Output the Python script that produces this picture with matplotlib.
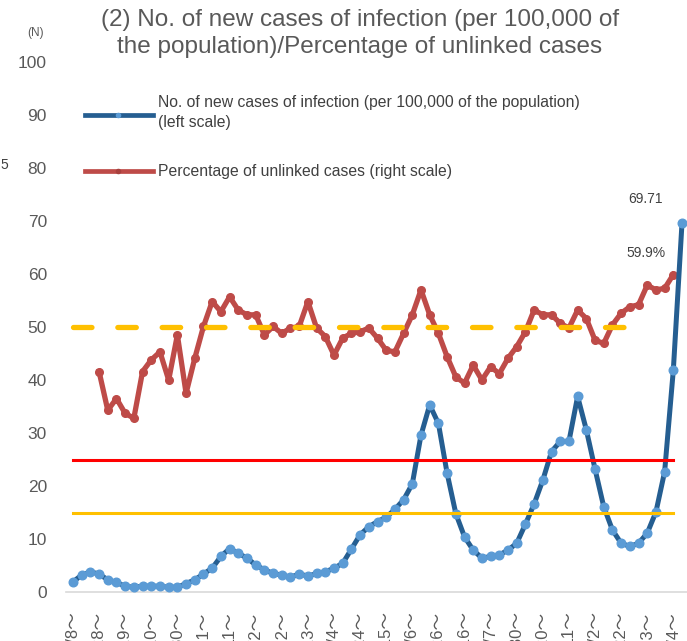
import matplotlib
matplotlib.use('Agg')
import matplotlib.pyplot as plt
from matplotlib.lines import Line2D
from matplotlib import font_manager
import numpy as np

plt.rcParams['font.family'] = ['Liberation Sans', 'DejaVu Sans']

# 人口10万人あたりの新規陽性者数 (左軸)
new_cases = [1.9, 3.2, 3.8, 3.4, 2.3, 1.8, 1.1, 0.9, 1.1, 1.1,
             1.1, 0.9, 0.9, 1.6, 2.3, 3.4, 4.5, 6.7, 8.2, 7.3,
             6.4, 5.1, 4.2, 3.5, 3.2, 2.8, 3.4, 3.0, 3.5, 3.8,
             4.5, 5.4, 8.1, 10.8, 12.3, 13.3, 14.1, 15.6, 17.4, 20.4,
             29.6, 35.3, 31.8, 22.4, 14.8, 10.4, 7.9, 6.4, 6.7, 7.0,
             7.9, 9.2, 12.8, 16.6, 21.1, 26.5, 28.4, 28.4, 36.9, 30.6,
             23.2, 16.1, 11.7, 9.2, 8.6, 9.2, 11.1, 15.1, 22.7, 41.9, 69.71]

# 感染経路不明割合 (右軸)
unlinked = [np.nan, np.nan, np.nan, 41.6, 34.3, 36.5, 33.7, 32.8, 41.6, 43.8,
            45.3, 40.0, 48.5, 37.5, 44.1, 50.1, 54.8, 52.9, 55.7, 53.2,
            52.3, 52.3, 48.5, 50.1, 48.8, 49.8, 50.1, 54.8, 49.8, 48.2,
            44.7, 47.9, 48.8, 49.1, 49.8, 47.9, 45.6, 45.3, 48.8, 52.3,
            57.0, 52.3, 48.8, 44.4, 40.6, 39.4, 42.8, 40.0, 42.5, 41.2,
            44.1, 46.3, 49.1, 53.2, 52.3, 52.3, 50.7, 49.8, 53.2, 51.6,
            47.5, 46.9, 50.4, 52.6, 53.8, 54.2, 57.9, 57.0, 57.3, 59.9]

x_labels = ["7/8～", "7/28～", "8/19～", "9/10～", "9/30～", "10/21～", "11/11～", "12/2～",
            "12/22～", "1/13～", "2/4～", "2/24～", "3/15～", "4/6～", "4/26～", "5/16～",
            "6/7～", "6/30～", "7/20～", "8/11～", "9/2～", "9/22～", "10/13～", "11/4～"]

stage4_level = 25
stage3_level = 15
unlinked_level = 50

# 数字は細めのフォント
installed = {f.name for f in font_manager.fontManager.ttflist}
if 'Liberation Sans Narrow' in installed:
    num_font, num_size = 'Liberation Sans Narrow', 14
else:
    num_font, num_size = 'Liberation Sans', 12.5

W, H = 687, 641
fig = plt.figure(figsize=(W / 100, H / 100), dpi=100)

def fx(px):
    return px / W

def fy(py):
    return 1 - py / H

ax = fig.add_axes([fx(66), 49 / H, 621 / W, 530 / H])

xs = np.arange(len(new_cases))
xr = np.arange(len(unlinked))

ax.plot(xr, unlinked, color='#BE4B48', lw=3.8, marker='o', ms=5.5,
        mfc='#BE4B48', mec='#BE4B48', zorder=3, solid_joinstyle='round')
ax.plot(xs, new_cases, color='#255E91', lw=3.6, marker='o', ms=6.2,
        mfc='#5B9BD5', mec='#5B9BD5', zorder=4, solid_joinstyle='round')

# 目安の線
ax.plot([0, 69], [stage4_level] * 2, color='#FF0000', lw=2.2, zorder=5)
ax.plot([0, 69], [stage3_level] * 2, color='#FFC000', lw=2.2, zorder=5)
ax.plot([0, 66], [unlinked_level] * 2, color='#FFC000', lw=3.8, zorder=5,
        dashes=(3.5, 4.9), dash_capstyle='round')

ax.annotate(f"{new_cases[-1]:.2f}", (xs[-1], new_cases[-1]), xytext=(-37, 24),
            textcoords='offset pixels', ha='center', va='center',
            fontsize=10, color='#404040')
ax.annotate(f"{unlinked[-1]:.1f}%", (xr[-1], unlinked[-1]), xytext=(-27, 22),
            textcoords='offset pixels', ha='center', va='center',
            fontsize=10, color='#404040')

ax.set_xlim(-0.8, 70.57)
ax.set_ylim(0, 100)
ax.set_yticks(range(0, 101, 10))
ax.set_xticks(np.arange(0, 70, 3))
ax.set_xticklabels(x_labels, rotation=90, family=['Liberation Sans', 'Noto Sans CJK JP'])
ax.tick_params(axis='y', length=0, pad=13.7, labelsize=num_size, labelcolor='#595959')
ax.tick_params(axis='x', length=0, pad=14, labelsize=12, labelcolor='#595959')
for lab in ax.get_yticklabels():
    lab.set_family(num_font)
for s in ['top', 'right', 'left']:
    ax.spines[s].set_visible(False)
ax.spines['bottom'].set_color('#D9D9D9')
ax.spines['bottom'].set_linewidth(1.2)

# タイトル
fig.text(fx(360), fy(20), "(2) No. of new cases of infection (per 100,000 of",
         ha='center', va='center', fontsize=17.5, color='#595959')
fig.text(fx(360), fy(47), "the population)/Percentage of unlinked cases",
         ha='center', va='center', fontsize=17.5, color='#595959')
fig.text(fx(36), fy(33), "(N)", ha='center', va='center', fontsize=8.5, color='#595959')
fig.text(fx(0), fy(165), "5", ha='left', va='center', fontsize=10, color='#404040')

# 凡例
fig.add_artist(Line2D([fx(85), fx(153)], [fy(115)] * 2, color='#255E91', lw=3.4,
                      transform=fig.transFigure))
fig.add_artist(Line2D([fx(118)], [fy(115)], marker='o', ms=3, color='#5B9BD5',
                      transform=fig.transFigure))
fig.add_artist(Line2D([fx(85), fx(153)], [fy(171)] * 2, color='#BE4B48', lw=3.4,
                      transform=fig.transFigure))
fig.add_artist(Line2D([fx(118)], [fy(171)], marker='o', ms=3, color='#A8403D',
                      transform=fig.transFigure))
fig.text(fx(158), fy(102), "No. of new cases of infection (per 100,000 of the population)",
         ha='left', va='center', fontsize=11.3, color='#404040')
fig.text(fx(158), fy(123), "(left scale)",
         ha='left', va='center', fontsize=11.3, color='#404040')
fig.text(fx(158), fy(171), "Percentage of unlinked cases (right scale)",
         ha='left', va='center', fontsize=11.3, color='#404040')

fig.savefig('out.png', dpi=100)
